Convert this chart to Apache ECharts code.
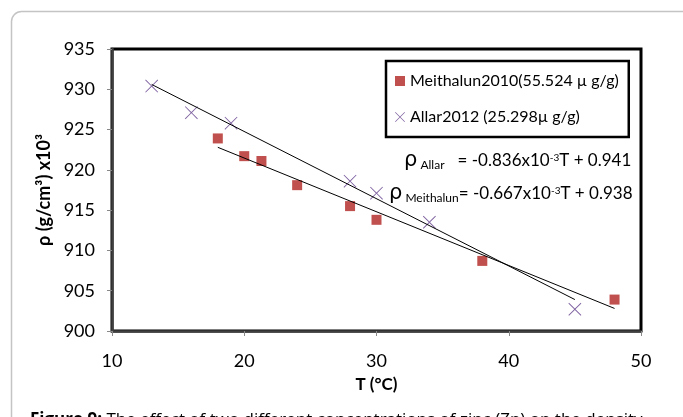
<!DOCTYPE html>
<html>
<head>
<meta charset="utf-8">
<script src="https://cdn.jsdelivr.net/npm/echarts@6/dist/echarts.min.js"></script>
<style>
  html, body { margin: 0; padding: 0; background: #fff; }
  #chart { width: 683px; height: 417px; }
</style>
</head>
<body>
<div id="chart"></div>
<script>
// Meithalun2010 (squares)
const meithalunT = [18, 20, 21.3, 24, 28, 30, 38, 48];
const meithalunRho = [923.9, 921.7, 921.1, 918.1, 915.5, 913.8, 908.7, 903.9];
// Allar2012 (crosses)
const allarT = [13, 16, 19, 28, 30, 34, 45];
const allarRho = [930.4, 927.1, 925.8, 918.6, 917.1, 913.5, 902.7];
// trend line end points
const allarTrendT = [13, 45];
const allarTrendRho = [930.6, 903.9];
const meithalunTrendT = [18, 48];
const meithalunTrendRho = [922.8, 902.8];
// axis ticks
const xTicks = [10, 20, 30, 40, 50];
const yTicks = [900, 905, 910, 915, 920, 925, 930, 935];

const meithalunName = 'Meithalun2010(55.524 µ g/g)';
const allarName = 'Allar2012 (25.298µ g/g)';

const FONT = 'Lato, "Open Sans", sans-serif';
const crossPath = 'path://M0,0.8L0.8,0L8,7.2L15.2,0L16,0.8L8.8,8L16,15.2L15.2,16L8,8.8L0.8,16L0,15.2L7.2,8Z';

const zip = (xs, ys) => xs.map((x, i) => [x, ys[i]]);

const chart = echarts.init(document.getElementById('chart'));

const eqRich = {
  r: { fontFamily: '"DejaVu Sans", sans-serif', fontSize: 21, lineHeight: 26, verticalAlign: 'middle', color: '#000' },
  s: { fontFamily: FONT, fontSize: 12, lineHeight: 12, verticalAlign: 'bottom', padding: [0, 0, 3, 0], color: '#000' },
  m: { fontFamily: FONT, fontSize: 17, lineHeight: 20, verticalAlign: 'middle', color: '#000' },
  p: { fontFamily: FONT, fontSize: 10, lineHeight: 10, verticalAlign: 'top', padding: [5, 0, 0, 0], color: '#000' }
};

const option = {
  backgroundColor: '#fff',
  animation: false,
  grid: {
    left: 112, right: 42, top: 49, bottom: 86,
    show: true, borderColor: '#000', borderWidth: 3, backgroundColor: 'transparent'
  },
  legend: {
    orient: 'vertical',
    left: 386, top: 61,
    padding: [12, 10, 12, 9],
    itemGap: 20,
    itemWidth: 10, itemHeight: 10,
    borderColor: '#000', borderWidth: 2.5,
    textStyle: { fontFamily: FONT, fontSize: 16, color: '#000' },
    data: [
      { name: meithalunName, icon: 'rect' },
      { name: allarName, icon: crossPath }
    ]
  },
  xAxis: {
    type: 'value',
    min: xTicks[0], max: xTicks[xTicks.length - 1], interval: 10,
    name: 'T (°C)', nameLocation: 'middle', nameGap: 45,
    nameTextStyle: { fontFamily: FONT, fontSize: 17, fontWeight: 'bold', color: '#000' },
    axisLine: { onZero: false, lineStyle: { color: '#404040', width: 2.5 } },
    axisTick: { show: true, length: 5, lineStyle: { color: '#888', width: 1 } },
    axisLabel: { margin: 21, fontFamily: FONT, fontSize: 18, color: '#000' },
    splitLine: { show: false }
  },
  yAxis: {
    type: 'value',
    min: yTicks[0], max: yTicks[yTicks.length - 1], interval: 5,
    name: 'ρ (g/cm³) x10³', nameLocation: 'middle', nameGap: 56, nameRotate: 90,
    nameTextStyle: { fontFamily: FONT, fontSize: 18, fontWeight: 'bold', color: '#000' },
    axisLine: { onZero: false, lineStyle: { color: '#404040', width: 2.5 } },
    axisTick: { show: true, length: 5, lineStyle: { color: '#888', width: 1 } },
    axisLabel: { margin: 17, fontFamily: FONT, fontSize: 18, color: '#000' },
    splitLine: { show: false }
  },
  series: [
    {
      name: allarName + ' trend', type: 'line', data: zip(allarTrendT, allarTrendRho),
      symbol: 'none', lineStyle: { color: '#000', width: 1 }, z: 3, silent: true
    },
    {
      name: meithalunName + ' trend', type: 'line', data: zip(meithalunTrendT, meithalunTrendRho),
      symbol: 'none', lineStyle: { color: '#000', width: 1 }, z: 3, silent: true
    },
    {
      name: meithalunName, type: 'scatter', data: zip(meithalunT, meithalunRho),
      symbol: 'rect', symbolSize: 10, itemStyle: { color: '#C0504D', opacity: 1 }, z: 2
    },
    {
      name: allarName, type: 'scatter', data: zip(allarT, allarRho),
      symbol: crossPath, symbolSize: 13, itemStyle: { color: '#8064A2', opacity: 1 }, z: 2
    }
  ],
  graphic: [
    {
      type: 'rect', left: 9, top: 9, silent: true,
      shape: { width: 720, height: 440, r: 10 },
      style: { fill: 'none', stroke: '#c4c4c4', lineWidth: 1.5 }
    },
    {
      type: 'text', left: 404, top: 148,
      style: { text: '{r|ρ}{s| Allar}{m|   = -0.836x10}{p|-3}{m|T + 0.941}', rich: eqRich }
    },
    {
      type: 'text', left: 389, top: 181,
      style: { text: '{r|ρ}{s| Meithalun}{m|= -0.667x10}{p|-3}{m|T + 0.938}', rich: eqRich }
    },
    {
      type: 'text', left: 30, top: 412,
      style: {
        text: '{b|Figure 9:} The effect of two different concentrations of zinc (Zn) on the density',
        fontFamily: '"Open Sans", sans-serif', fontSize: 17, fill: '#000',
        rich: { b: { fontFamily: '"Open Sans", sans-serif', fontSize: 17, fontWeight: 'bold', color: '#000' } }
      }
    }
  ]
};

chart.setOption(option);
</script>
</body>
</html>
